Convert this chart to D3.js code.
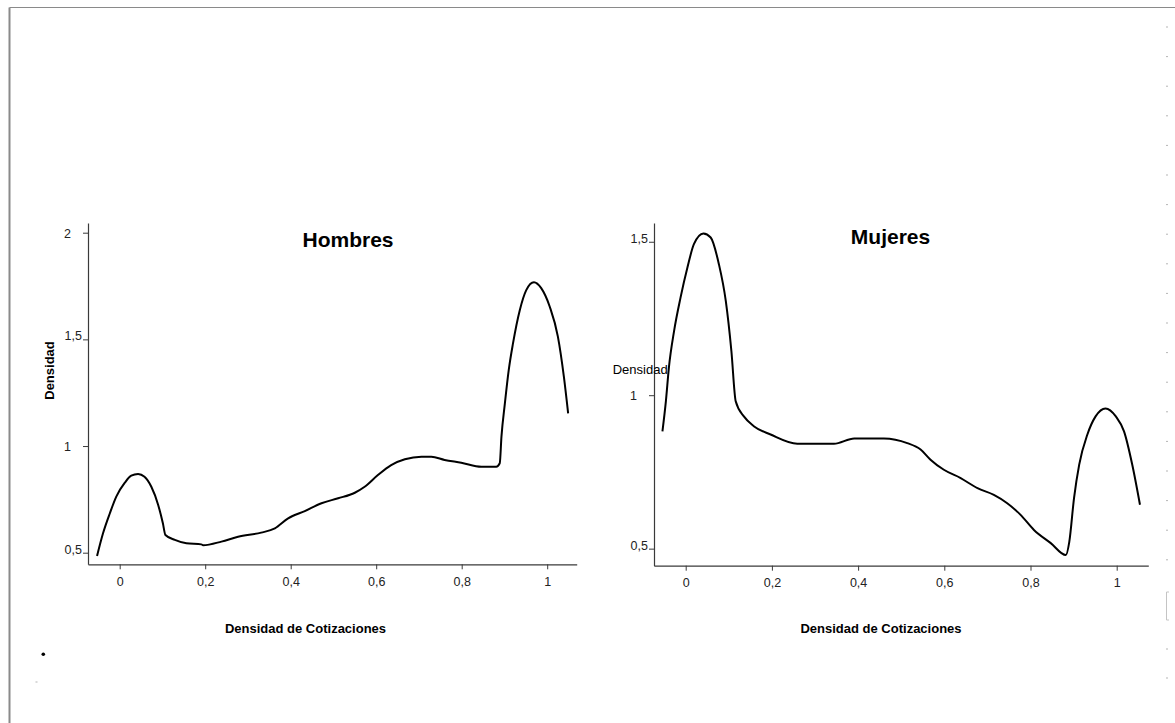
<!DOCTYPE html>
<html>
<head>
<meta charset="utf-8">
<script src="https://cdn.jsdelivr.net/npm/d3@7"></script>
<style>
  html, body { margin: 0; padding: 0; background: #fff; }
  svg { display: block; font-family: "Liberation Sans", Arial, sans-serif; }
</style>
</head>
<body>
<svg id="chart" width="1175" height="723"></svg>
<script>
// Kernel density of contribution density, men
const hombresX = [-0.053, -0.039, -0.023, -0.008, 0.012, 0.027, 0.043, 0.058, 0.074, 0.090, 0.101, 0.107,
  0.129, 0.156, 0.191, 0.195, 0.238, 0.277, 0.331, 0.363, 0.394, 0.433, 0.472, 0.511, 0.550, 0.573,
  0.604, 0.635, 0.667, 0.706, 0.729, 0.760, 0.799, 0.846, 0.881, 0.889, 0.893, 0.901, 0.910, 0.920,
  0.936, 0.951, 0.969, 0.986, 1.006, 1.025, 1.039, 1.049];
const hombresY = [0.485, 0.591, 0.685, 0.763, 0.828, 0.861, 0.869, 0.856, 0.809, 0.724, 0.638, 0.583,
  0.560, 0.544, 0.539, 0.535, 0.552, 0.575, 0.594, 0.614, 0.661, 0.695, 0.732, 0.755, 0.781, 0.809,
  0.864, 0.911, 0.938, 0.950, 0.950, 0.935, 0.922, 0.903, 0.903, 0.919, 1.044, 1.200, 1.356, 1.481,
  1.638, 1.731, 1.768, 1.740, 1.653, 1.513, 1.325, 1.153];

// Kernel density of contribution density, women
const mujeresX = [-0.054, -0.046, -0.039, -0.027, -0.012, 0.004, 0.019, 0.041, 0.058, 0.077, 0.093, 0.106,
  0.116, 0.135, 0.158, 0.197, 0.259, 0.344, 0.391, 0.460, 0.514, 0.545, 0.568, 0.599, 0.638, 0.677,
  0.715, 0.746, 0.777, 0.808, 0.847, 0.882, 0.890, 0.901, 0.913, 0.932, 0.951, 0.974, 0.998, 1.017,
  1.036, 1.054];
const mujeresY = [0.882, 0.980, 1.090, 1.209, 1.318, 1.416, 1.492, 1.527, 1.514, 1.427, 1.307, 1.144,
  0.980, 0.931, 0.899, 0.872, 0.842, 0.842, 0.859, 0.859, 0.844, 0.823, 0.790, 0.757, 0.730, 0.697,
  0.675, 0.648, 0.610, 0.561, 0.518, 0.479, 0.522, 0.665, 0.774, 0.872, 0.931, 0.957, 0.931, 0.882,
  0.774, 0.643];

const xTickValues = [0, 0.2, 0.4, 0.6, 0.8, 1];
const xTickLabels = ["0", "0,2", "0,4", "0,6", "0,8", "1"];
const hombresYTicks = [0.5, 1, 1.5, 2];
const hombresYLabels = ["0,5", "1", "1,5", "2"];
const mujeresYTicks = [0.5, 1, 1.5];
const mujeresYLabels = ["0,5", "1", "1,5"];

const xTitle = "Densidad de Cotizaciones";
const yTitle = "Densidad";

const svg = d3.select("#chart");

// Page frame lines
svg.append("line").attr("x1", 9.5).attr("x2", 1175).attr("y1", 7.5).attr("y2", 7.5)
  .attr("stroke", "#8a8a8a").attr("stroke-width", 1);
svg.append("line").attr("x1", 9.5).attr("x2", 9.5).attr("y1", 7.5).attr("y2", 723)
  .attr("stroke", "#8a8a8a").attr("stroke-width", 2);

// Small margin marks along the right edge
const edgeMarks = d3.range(0, 19).map(k => 27 + 29.6 * k).concat([649, 678]);
svg.selectAll("rect.edge").data(edgeMarks).enter().append("rect")
  .attr("class", "edge")
  .attr("x", 1166).attr("y", d => d - 0.5).attr("width", 2).attr("height", 1)
  .attr("fill", "#b5b5b5");
svg.append("path")
  .attr("d", "M1169,592 L1166.5,592 L1166.5,620 L1169,620")
  .attr("fill", "none").attr("stroke", "#c4c4c4").attr("stroke-width", 1);
svg.append("circle").attr("cx", 43.3).attr("cy", 654.3).attr("r", 1.8).attr("fill", "#000");
svg.append("rect").attr("x", 35.5).attr("y", 681.5).attr("width", 2).attr("height", 1).attr("fill", "#b5b5b5");

function panel(opts) {
  const { xs, ys, left, right, top, bottom, xDomain, yDomain, yTicks, yLabels, title, titleX, titleY, xTitleX } = opts;
  const g = svg.append("g");
  const x = d3.scaleLinear().domain(xDomain).range([left, right]);
  const y = d3.scaleLinear().domain(yDomain).range([bottom, top]);

  // X axis
  const xAxis = g.append("g").attr("transform", `translate(0,${bottom})`)
    .call(d3.axisBottom(x).tickValues(xTickValues).tickSize(5).tickSizeOuter(0)
      .tickFormat((d, i) => xTickLabels[i]));
  xAxis.select(".domain").attr("stroke", "#3a3a3a").attr("stroke-width", 1.2);
  xAxis.selectAll(".tick line").attr("stroke", "#3a3a3a");
  xAxis.selectAll(".tick text").attr("y", 0).attr("dy", 0).attr("transform", "translate(0,21.5)")
    .attr("font-size", 12.5).attr("fill", "#222").attr("font-family", "Liberation Sans, Arial, sans-serif");

  // Y axis
  const yAxis = g.append("g").attr("transform", `translate(${left},0)`)
    .call(d3.axisLeft(y).tickValues(yTicks).tickSize(5).tickSizeOuter(0)
      .tickFormat((d, i) => yLabels[i]));
  yAxis.select(".domain").attr("stroke", "#3a3a3a").attr("stroke-width", 1.2);
  yAxis.selectAll(".tick line").attr("stroke", "#3a3a3a");
  yAxis.selectAll(".tick text")
    .attr("font-size", 12.5).attr("fill", "#222").attr("font-family", "Liberation Sans, Arial, sans-serif")
    .attr("x", (d, i) => yLabels[i].includes(",") ? -6 : -17)
    .attr("dy", (d, i) => yLabels[i].includes(",") ? "0.05em" : "0.35em");

  // Density curve
  const line = d3.line().x(d => x(d[0])).y(d => y(d[1])).curve(d3.curveMonotoneX);
  g.append("path").datum(xs.map((v, i) => [v, ys[i]]))
    .attr("d", line).attr("fill", "none").attr("stroke", "#000").attr("stroke-width", 2)
    .attr("stroke-linejoin", "round");

  // Titles
  g.append("text").attr("x", titleX).attr("y", titleY).attr("text-anchor", "middle")
    .attr("font-size", 21).attr("font-weight", "bold").attr("fill", "#000").text(title);
  g.append("text").attr("x", xTitleX).attr("y", 633).attr("text-anchor", "middle")
    .attr("font-size", 13).attr("font-weight", "bold").attr("fill", "#000").text(xTitle);
  return { g, x, y };
}

panel({
  xs: hombresX, ys: hombresY,
  left: 88, right: 576.7, top: 223, bottom: 564.3,
  xDomain: [(88 - 119.7) / 427.5, (576.7 - 119.7) / 427.5],
  yDomain: [0.5 - (564.3 - 552.7) / 213.3, 2 + (232.7 - 223) / 213.3],
  yTicks: hombresYTicks, yLabels: hombresYLabels,
  title: "Hombres", titleX: 348, titleY: 246.5, xTitleX: 305.5
});

panel({
  xs: mujeresX, ys: mujeresY,
  left: 654, right: 1148.3, top: 223, bottom: 565.7,
  xDomain: [(654 - 685.7) / 431, (1148.3 - 685.7) / 431],
  yDomain: [1 - (565.7 - 395.7) / 306, 1.5 + (241.7 - 223) / 306],
  yTicks: mujeresYTicks, yLabels: mujeresYLabels,
  title: "Mujeres", titleX: 890.5, titleY: 244, xTitleX: 881
});

// Y-axis titles
svg.append("text").attr("transform", "translate(54,370.5) rotate(-90)")
  .attr("text-anchor", "middle").attr("font-size", 13).attr("font-weight", "bold")
  .attr("fill", "#000").text(yTitle);
svg.append("text").attr("x", 612.7).attr("y", 374)
  .attr("font-size", 13).attr("fill", "#000").text(yTitle);
</script>
</body>
</html>
